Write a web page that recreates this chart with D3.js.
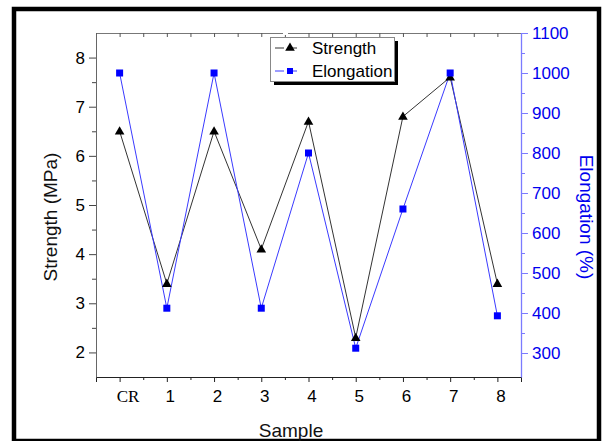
<!DOCTYPE html>
<html>
<head>
<meta charset="utf-8">
<script src="https://cdn.jsdelivr.net/npm/d3@7"></script>
<style>
  body { margin: 0; background: #fff; }
  svg { display: block; font-family: "Liberation Sans", Arial, sans-serif; }
</style>
</head>
<body>
<svg id="chart" width="605" height="441"></svg>
<script>
// values
const samples = ["CR", "1", "2", "3", "4", "5", "6", "7", "8"];
const strength = [6.5, 3.4, 6.5, 4.1, 6.7, 2.3, 6.8, 7.6, 3.4];
const elongation = [1000, 412, 1000, 412, 800, 312, 660, 1000, 393];
const strengthTicks = [2, 3, 4, 5, 6, 7, 8];
const elongTicks = [300, 400, 500, 600, 700, 800, 900, 1000, 1100];

const svg = d3.select("#chart");
const plotLeft = 96, plotRight = 521, plotTop = 33, plotBottom = 377;

const x = d3.scaleLinear().domain([-0.5, 8.5]).range([plotLeft, plotRight]);
const yS = d3.scaleLinear().domain([1.5, 8.5]).range([plotBottom, plotTop]);
const yE = d3.scaleLinear().domain([240, 1100]).range([plotBottom, plotTop]);

const blueAxis = "#7b7bff";
const blueText = "#0000ee";
const plain = d3.format("d");

// outer frame
svg.append("rect")
  .attr("x", 14).attr("y", 9)
  .attr("width", 585).attr("height", 432)
  .attr("fill", "none").attr("stroke", "#000").attr("stroke-width", 4.5);

const idx = samples.map((d, i) => i);
const halfSteps = d3.range(-0.5, 8.6, 1);

// bottom axis
svg.append("g").attr("transform", `translate(0,${plotBottom})`)
  .call(d3.axisBottom(x).tickValues(idx).tickSize(5).tickPadding(8)
    .tickFormat(i => samples[i]))
  .call(g => g.select(".domain").attr("stroke", "#222"))
  .call(g => g.selectAll(".tick line").attr("stroke", "#222"))
  .call(g => g.selectAll("text").attr("font-size", 17).attr("fill", "#000")
    .attr("dx", i => i === 0 ? 8 : 3)
    .attr("font-family", i => i === 0 ? "'Liberation Serif', 'Times New Roman', serif" : null));
svg.append("g").attr("transform", `translate(0,${plotBottom})`)
  .call(d3.axisBottom(x).tickValues(halfSteps).tickSize(3).tickFormat(""))
  .call(g => g.select(".domain").remove())
  .call(g => g.selectAll(".tick line").attr("stroke", "#222"));

// top axis (mirror, inward ticks)
svg.append("g").attr("transform", `translate(0,${plotTop})`)
  .call(d3.axisTop(x).tickValues(idx.concat(halfSteps)).tickSizeInner(-4).tickSizeOuter(0).tickFormat(""))
  .call(g => g.select(".domain").attr("stroke", "#777"))
  .call(g => g.selectAll(".tick line").attr("stroke", "#555"));
// small gap in the top frame line
svg.append("rect").attr("x", 283).attr("y", 29).attr("width", 5).attr("height", 6).attr("fill", "#fff");

// left axis
svg.append("g").attr("transform", `translate(${plotLeft},0)`)
  .call(d3.axisLeft(yS).tickValues(strengthTicks).tickSize(7).tickSizeOuter(0).tickPadding(4).tickFormat(plain))
  .call(g => g.select(".domain").attr("stroke", "#666"))
  .call(g => g.selectAll(".tick line").attr("stroke", "#444"))
  .call(g => g.selectAll("text").attr("font-size", 17).attr("fill", "#000"));
svg.append("g").attr("transform", `translate(${plotLeft},0)`)
  .call(d3.axisLeft(yS).tickValues(d3.range(2.5, 8, 1)).tickSize(4).tickFormat(""))
  .call(g => g.select(".domain").remove())
  .call(g => g.selectAll(".tick line").attr("stroke", "#444"));

// right axis
svg.append("g").attr("transform", `translate(${plotRight},0)`)
  .call(d3.axisRight(yE).tickValues(elongTicks).tickSize(7).tickSizeOuter(0).tickPadding(4).tickFormat(plain))
  .call(g => g.select(".domain").attr("stroke", blueAxis).attr("stroke-width", 1.3))
  .call(g => g.selectAll(".tick line").attr("stroke", blueAxis))
  .call(g => g.selectAll("text").attr("font-size", 17).attr("fill", blueText));
svg.append("g").attr("transform", `translate(${plotRight},0)`)
  .call(d3.axisRight(yE).tickValues(d3.range(350, 1100, 100)).tickSize(4).tickFormat(""))
  .call(g => g.select(".domain").remove())
  .call(g => g.selectAll(".tick line").attr("stroke", blueAxis));

// axis titles
svg.append("text")
  .attr("transform", "translate(57,217) rotate(-90)")
  .attr("text-anchor", "middle").attr("font-size", 19).attr("fill", "#111")
  .text("Strength (MPa)");
svg.append("text")
  .attr("transform", "translate(580,217) rotate(90)")
  .attr("text-anchor", "middle").attr("font-size", 19).attr("fill", blueText)
  .text("Elongation (%)");
svg.append("text")
  .attr("x", 291).attr("y", 437)
  .attr("text-anchor", "middle").attr("font-size", 19).attr("fill", "#111")
  .text("Sample");

// lines
const lineS = d3.line().x((d, i) => x(i)).y(d => yS(d));
const lineE = d3.line().x((d, i) => x(i)).y(d => yE(d));
svg.append("path").datum(strength).attr("d", lineS)
  .attr("fill", "none").attr("stroke", "#333").attr("stroke-width", 1);
svg.append("path").datum(elongation).attr("d", lineE)
  .attr("fill", "none").attr("stroke", "#3a3aff").attr("stroke-width", 1);

const tri = d3.symbol().type(d3.symbolTriangle).size(40);
svg.append("g").selectAll("path").data(strength).join("path")
  .attr("d", tri)
  .attr("transform", (d, i) => `translate(${x(i)},${yS(d) + 0.5})`)
  .attr("fill", "#000");
svg.append("g").selectAll("rect").data(elongation).join("rect")
  .attr("x", (d, i) => x(i) - 3.5).attr("y", d => yE(d) - 3.5)
  .attr("width", 7).attr("height", 7)
  .attr("fill", "#0000ff");

// legend
const lg = svg.append("g");
lg.append("rect").attr("x", 274).attr("y", 41).attr("width", 124).attr("height", 44).attr("fill", "#000");
lg.append("rect").attr("x", 270.5).attr("y", 37.5).attr("width", 124).attr("height", 44)
  .attr("fill", "#fff").attr("stroke", "#888").attr("stroke-width", 1);
const legendItems = [
  { name: "Strength", color: "#333", y: 48, marker: "tri" },
  { name: "Elongation", color: "#3a3aff", y: 71, marker: "sq" }
];
legendItems.forEach(it => {
  lg.append("line").attr("x1", 275).attr("x2", 306).attr("y1", it.y).attr("y2", it.y)
    .attr("stroke", it.color).attr("stroke-dasharray", "9,4,0,0,9");
  if (it.marker === "tri") {
    lg.append("path").attr("d", tri).attr("transform", `translate(290,${it.y})`).attr("fill", "#000");
  } else {
    lg.append("rect").attr("x", 287).attr("y", it.y - 3).attr("width", 6).attr("height", 6).attr("fill", "#0000ff");
  }
  lg.append("text").attr("x", 312).attr("y", it.y + 6).attr("font-size", 17).attr("fill", "#000").text(it.name);
});
</script>
</body>
</html>
